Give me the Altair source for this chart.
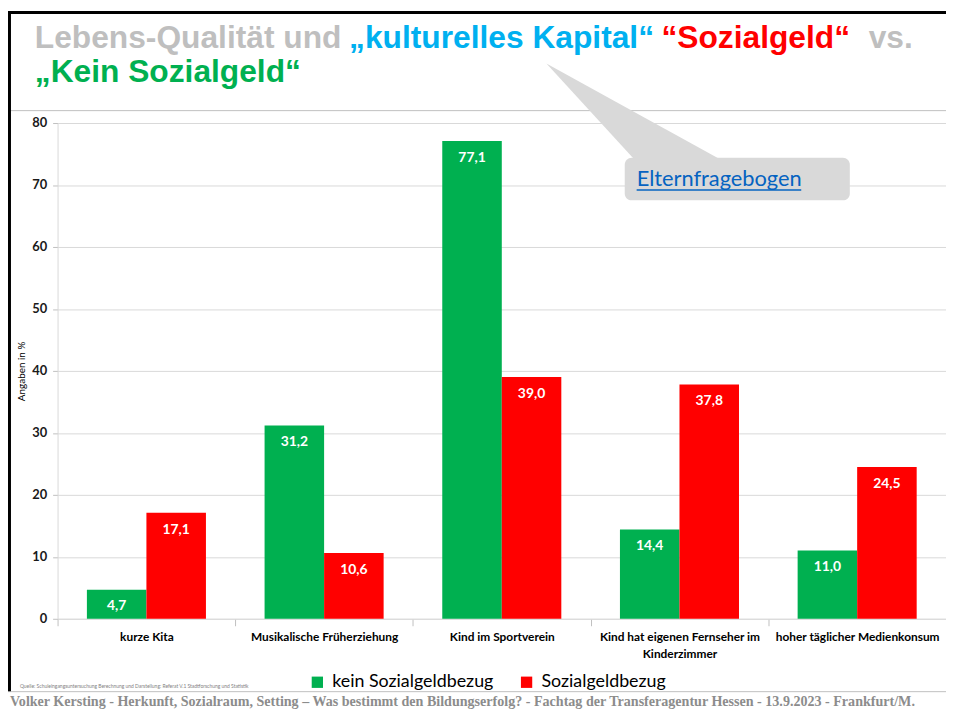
import altair as alt
import pandas as pd

# ---------------- data ----------------
categories = [
    "kurze Kita",
    "Musikalische Früherziehung",
    "Kind im Sportverein",
    "Kind hat eigenen Fernseher im Kinderzimmer",
    "hoher täglicher Medienkonsum",
]
series = ["kein Sozialgeldbezug", "Sozialgeldbezug"]
kein_values = [4.7, 31.2, 77.1, 14.4, 11.0]
sozial_values = [17.1, 10.6, 39.0, 37.8, 24.5]
y_ticks = [0, 10, 20, 30, 40, 50, 60, 70, 80]
series_colors = ["#00B050", "#FF0000"]

title_parts = ["Lebens-Qualität und", "„kulturelles Kapital“", "“Sozialgeld“", "vs."]
title_line2 = "„Kein Sozialgeld“"
callout_text = "Elternfragebogen"
source_text = ("Quelle: Schuleingangsuntersuchung Berechnung und Darstellung: "
               "Referat V.1 Stadtforschung und Statistik")
footer_text = ("Volker Kersting - Herkunft, Sozialraum, Setting – Was bestimmt den "
               "Bildungserfolg? - Fachtag der Transferagentur Hessen - 13.9.2023 - Frankfurt/M.")

rows = []
for c, a, b in zip(categories, kein_values, sozial_values):
    rows.append({"Kategorie": c, "Gruppe": series[0], "Wert": a})
    rows.append({"Kategorie": c, "Gruppe": series[1], "Wert": b})
df = pd.DataFrame(rows)
df["Label"] = df["Wert"].map(lambda v: f"{v:.1f}".replace(".", ","))

# ---------------- layout helpers ----------------
OX, OY = 58, 121          # page position of plot origin
W, H = 896, 500
PAD_L, PAD_T = OX - 8, OY - 8
TOTAL_H = 704


def px(x):
    return x - OX


def py(y):
    return y - OY


one = pd.DataFrame({"k": [0]})
step = W / 5.0
LAB = "Lato"

split_expr = ("datum.label == 'Kind hat eigenen Fernseher im Kinderzimmer' ? "
              "['Kind hat eigenen Fernseher im', 'Kinderzimmer'] : datum.label")

base = alt.Chart(df).encode(
    x=alt.X(
        "Kategorie:N",
        sort=categories,
        scale=alt.Scale(paddingInner=0.33, paddingOuter=0.165),
        axis=alt.Axis(
            title=None, labelAngle=0, labelExpr=split_expr,
            tickOffset=-step / 2, labelOffset=step / 2,
            domainColor="#D9D9D9", tickColor="#BFBFBF", tickSize=7,
            labelFont=LAB, labelFontWeight="bold", labelFontSize=12,
            labelColor="#000000", labelPadding=6, labelLineHeight=17,
            labelLimit=300,
        ),
    ),
    xOffset=alt.XOffset("Gruppe:N", sort=series),
    y=alt.Y(
        "Wert:Q",
        scale=alt.Scale(domain=[0, 80]),
        axis=alt.Axis(
            values=y_ticks, title="Angaben in %", titleFont=LAB, titleFontSize=10,
            titleFontWeight="normal", titleColor="#000000", titleX=px(22), titleY=H / 2,
            titleAngle=270, titleAlign="center", titleBaseline="middle",
            domainColor="#D9D9D9", tickColor="#BFBFBF", tickSize=5,
            gridColor="#D9D9D9", labelFont=LAB, labelFontWeight="bold",
            labelFontSize=13, labelColor="#1A1A1A", labelPadding=6,
        ),
    ),
)

bars = base.mark_bar().encode(
    color=alt.Color(
        "Gruppe:N", sort=series,
        scale=alt.Scale(domain=series, range=series_colors),
        legend=alt.Legend(
            title=None, orient="none", legendX=px(311), legendY=py(676),
            direction="horizontal", symbolType="square", symbolSize=130,
            symbolStrokeWidth=0, labelFont=LAB, labelFontSize=18,
            labelColor="#000000", columnPadding=24, labelOffset=6,
            labelLimit=400,
        ),
    )
)

labels = base.mark_text(
    dy=17, color="white", font=LAB, fontWeight="bold", fontSize=14
).encode(text="Label:N")

# ---------------- decorations ----------------
deco = []
# separator lines
deco.append(alt.Chart(one).mark_rule(color="#BFBFBF", strokeWidth=1).encode(
    x=alt.value(px(8)), x2=alt.value(px(954)), y=alt.value(py(108.5))))
deco.append(alt.Chart(one).mark_rule(color="#BFBFBF", strokeWidth=1).encode(
    x=alt.value(px(8)), x2=alt.value(px(954)), y=alt.value(py(694.5))))
# black frame (top and left)
deco.append(alt.Chart(one).mark_rule(color="#000000", strokeWidth=3).encode(
    x=alt.value(px(8)), x2=alt.value(px(954)), y=alt.value(py(9.5))))
deco.append(alt.Chart(one).mark_rule(color="#000000", strokeWidth=3).encode(
    x=alt.value(px(9.5)), y=alt.value(py(8)), y2=alt.value(py(694))))
# callout pointer and box
deco.append(alt.Chart(one).mark_point(
    shape="M-0.89,-0.97L0,0L0.87,0Z", size=40000, filled=True,
    color="#D9D9D9", opacity=1, strokeWidth=0
).encode(x=alt.value(px(640)), y=alt.value(py(158))))
deco.append(alt.Chart(one).mark_rect(color="#D9D9D9", cornerRadius=7).encode(
    x=alt.value(px(630)), x2=alt.value(px(857)),
    y=alt.value(py(156)), y2=alt.value(py(199))))
deco.append(alt.Chart(one).mark_text(
    font=LAB, fontSize=22, color="#0563C1", align="left", baseline="alphabetic"
).encode(x=alt.value(px(642)), y=alt.value(py(185)), text=alt.value(callout_text)))
deco.append(alt.Chart(one).mark_rule(color="#0563C1", strokeWidth=1.5).encode(
    x=alt.value(px(642)), x2=alt.value(px(808)), y=alt.value(py(188.5))))

# title
TF = "Liberation Sans"
title_x = [35, 352, 667, 876]
title_c = ["#BFBFBF", "#00B0F0", "#FF0000", "#BFBFBF"]
for t, xx, cc in zip(title_parts, title_x, title_c):
    deco.append(alt.Chart(one).mark_text(
        font=TF, fontWeight="bold", fontSize=32, color=cc,
        align="left", baseline="alphabetic"
    ).encode(x=alt.value(px(xx)), y=alt.value(py(45)), text=alt.value(t)))
deco.append(alt.Chart(one).mark_text(
    font=TF, fontWeight="bold", fontSize=32, color="#00B050",
    align="left", baseline="alphabetic"
).encode(x=alt.value(px(35)), y=alt.value(py(80)), text=alt.value(title_line2)))

# source and footer
deco.append(alt.Chart(one).mark_text(
    font=LAB, fontSize=5, color="#7F7F7F", align="left", baseline="middle"
).encode(x=alt.value(px(20)), y=alt.value(py(689)), text=alt.value(source_text)))
deco.append(alt.Chart(one).mark_text(
    font="Liberation Serif", fontWeight="bold", fontSize=14.2, color="#8C8C8C",
    align="left", baseline="alphabetic"
).encode(x=alt.value(px(10)), y=alt.value(py(709)), text=alt.value(footer_text)))

chart = alt.layer(bars, labels, *deco).properties(
    width=W, height=H,
    autosize=alt.AutoSizeParams(type="none"),
    padding={"left": PAD_L, "top": PAD_T, "right": 0,
             "bottom": TOTAL_H - PAD_T - H},
    background="white",
).configure_view(strokeWidth=0)

chart.save("out.html", embed_options={"renderer": "svg", "actions": False})
